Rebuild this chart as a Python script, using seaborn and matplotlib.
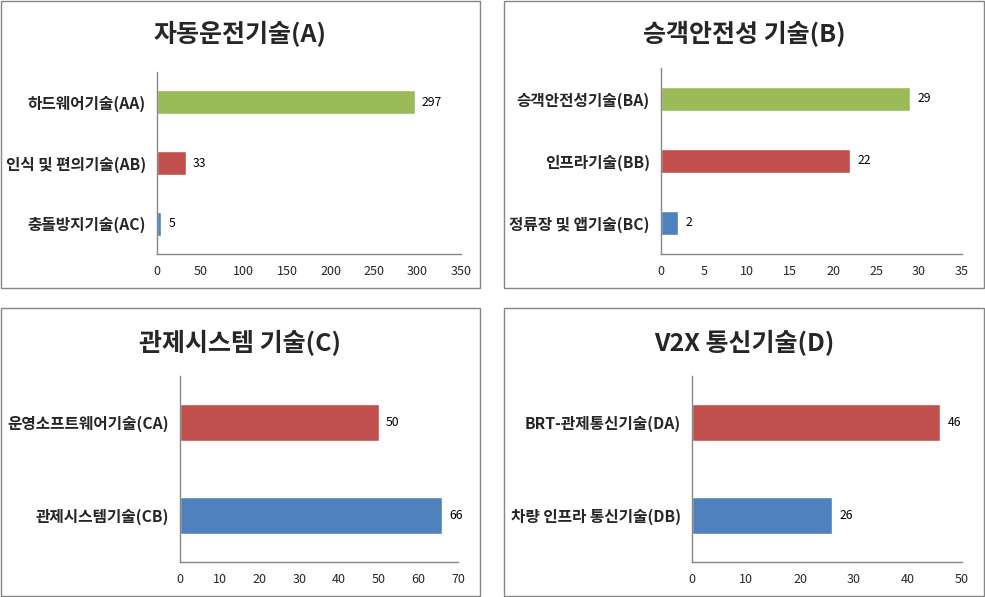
import matplotlib
matplotlib.use("Agg")
import matplotlib.pyplot as plt
import seaborn as sns
import pandas as pd
from matplotlib.patches import Rectangle
from matplotlib.ticker import MultipleLocator, FixedLocator

# ---- data ----
title_a = "자동운전기술(A)"
cats_a = ["하드웨어기술(AA)", "인식 및 편의기술(AB)", "충돌방지기술(AC)"]
vals_a = [297, 33, 5]

title_b = "승객안전성 기술(B)"
cats_b = ["승객안전성기술(BA)", "인프라기술(BB)", "정류장 및 앱기술(BC)"]
vals_b = [29, 22, 2]

title_c = "관제시스템 기술(C)"
cats_c = ["운영소프트웨어기술(CA)", "관제시스템기술(CB)"]
vals_c = [50, 66]

title_d = "V2X 통신기술(D)"
cats_d = ["BRT-관제통신기술(DA)", "차량 인프라 통신기술(DB)"]
vals_d = [46, 26]

GREEN, RED, BLUE = "#9BBB59", "#C0504D", "#4F81BD"
colors_3 = [GREEN, RED, BLUE]
colors_2 = [RED, BLUE]

sns.set_style("white")
plt.rcParams['font.family'] = ['Noto Sans CJK KR', 'DejaVu Sans']

W, H = 985, 597
fig = plt.figure(figsize=(W / 100, H / 100), dpi=100)
GRAY = "#868686"


def px_axes(l, t, r, b):
    return fig.add_axes([l / W, (H - b) / H, (r - l) / W, (b - t) / H])


def border(l, t, r, b):
    fig.patches.append(Rectangle((l / W, (H - b) / H), (r - l) / W, (b - t) / H,
                                 transform=fig.transFigure, fill=False,
                                 edgecolor=GRAY, lw=1.0))


def panel(ax, cats, vals, colors, xmax, step):
    df = pd.DataFrame({"cat": cats, "val": vals})
    sns.barplot(data=df, x="val", y="cat", hue="cat", palette=colors,
                orient="h", width=0.4, saturation=1, legend=False, ax=ax)
    for cont in ax.containers:
        ax.bar_label(cont, padding=5, fontsize=8.8, color="black")
    n = len(cats)
    ax.set_xlim(0, xmax)
    ax.set_ylim(n - 0.5, -0.5)
    ax.xaxis.set_major_locator(MultipleLocator(step))
    ax.yaxis.set_major_locator(FixedLocator(list(range(n))))
    ax.set_yticklabels(cats, fontsize=11.3, fontweight="bold")
    ax.yaxis.set_minor_locator(FixedLocator([i - 0.5 for i in range(n + 1)]))
    ax.tick_params(axis="y", which="major", length=0, pad=8)
    ax.tick_params(axis="y", which="minor", length=5, color=GRAY, width=1)
    ax.tick_params(axis="x", which="major", length=5, color=GRAY, width=1,
                   labelsize=9, pad=3)
    ax.set_xlabel("")
    ax.set_ylabel("")
    for s in ["top", "right"]:
        ax.spines[s].set_visible(False)
    for s in ["left", "bottom"]:
        ax.spines[s].set_color(GRAY)
        ax.spines[s].set_linewidth(1)
    ax.grid(False)


# borders
border(1, 1, 480, 288)
border(504, 1, 984, 288)
border(1, 308, 480, 596)
border(504, 308, 984, 596)

axA = px_axes(157, 72, 461, 254)
panel(axA, cats_a, vals_a, colors_3, 350, 50)
axB = px_axes(661, 68, 962, 254)
panel(axB, cats_b, vals_b, colors_3, 35, 5)
axC = px_axes(180, 376, 458, 562)
panel(axC, cats_c, vals_c, colors_2, 70, 10)
axD = px_axes(692, 376, 962, 562)
panel(axD, cats_d, vals_d, colors_2, 50, 10)

for title, cx, cy in [(title_a, 240, 34), (title_b, 744, 34),
                      (title_c, 240, 343), (title_d, 744, 343)]:
    fig.text(cx / W, (H - cy) / H, title, ha="center", va="center",
             fontsize=18, fontweight="bold")

fig.savefig("out.png", dpi=100)
